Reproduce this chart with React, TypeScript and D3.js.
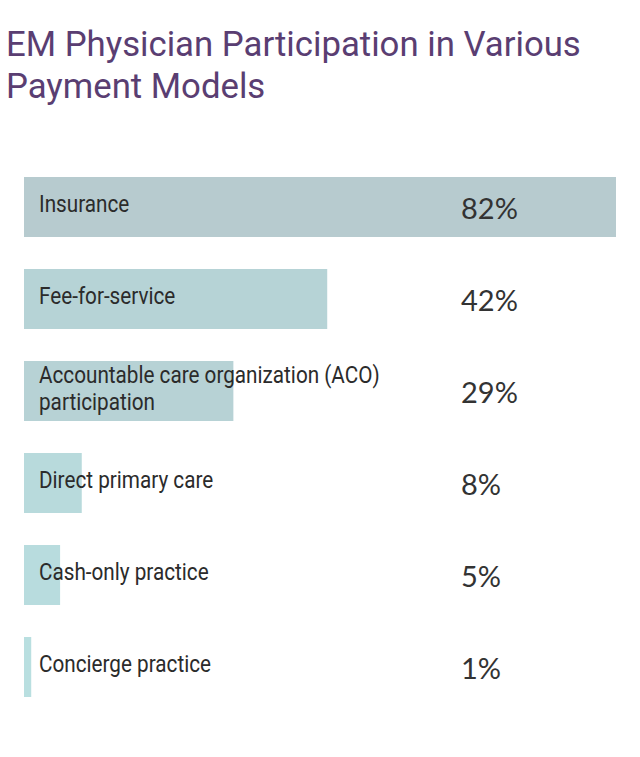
import React from 'react';
import * as d3 from 'd3';

const categories = [
  'Insurance',
  'Fee-for-service',
  'Accountable care organization (ACO)\nparticipation',
  'Direct primary care',
  'Cash-only practice',
  'Concierge practice',
];
const values = [82, 42, 29, 8, 5, 1];
const barColors = ['#b7cbcf', '#b6d3d6', '#b7d2d5', '#b8dadc', '#b8dcde', '#b9dfe0'];
const titleLines = ['EM Physician Participation in Various', 'Payment Models'];

const width = 640;
const height = 757;

const App = () => {
  // x scale: percentages to pixels
  const x = d3.scaleLinear().domain([0, 82]).range([24, 616]);
  const y = d3
    .scaleBand()
    .domain(categories)
    .range([177, 697])
    .paddingInner(32 / 92)
    .paddingOuter(0);

  return (
    <svg
      width={width}
      height={height}
      style={{ position: 'absolute', left: 0, top: 0, background: '#fff' }}
    >
      {titleLines.map((t, i) => (
        <text
          key={t}
          transform={`translate(6, ${56 + i * 42}) scale(0.965, 1)`}
          style={{ fontFamily: 'Roboto', fontSize: '36px', fill: '#5a3e72' }}
        >
          {t}
        </text>
      ))}

      {categories.map((c, i) => {
        const top = y(c) as number;
        const mid = top + y.bandwidth() / 2;
        const lines = c.split('\n');
        return (
          <g key={c}>
            <rect
              x={x(0)}
              y={top}
              width={x(values[i]) - x(0)}
              height={y.bandwidth()}
              fill={barColors[i]}
            />
            {lines.map((l, j) => (
              <text
                key={l}
                transform={`translate(39, ${mid + 5 + (j - (lines.length - 1) / 2) * 27}) scale(0.9, 1)`}
                style={{ fontFamily: 'Roboto', fontSize: '23px', fill: '#2b2b2b' }}
              >
                {l}
              </text>
            ))}
            <text
              x={461}
              y={mid + 12}
              style={{ fontFamily: 'Lato', fontWeight: 400, fontSize: '29px', fill: '#333' }}
            >
              {values[i]}%
            </text>
          </g>
        );
      })}
    </svg>
  );
};

export default App;
